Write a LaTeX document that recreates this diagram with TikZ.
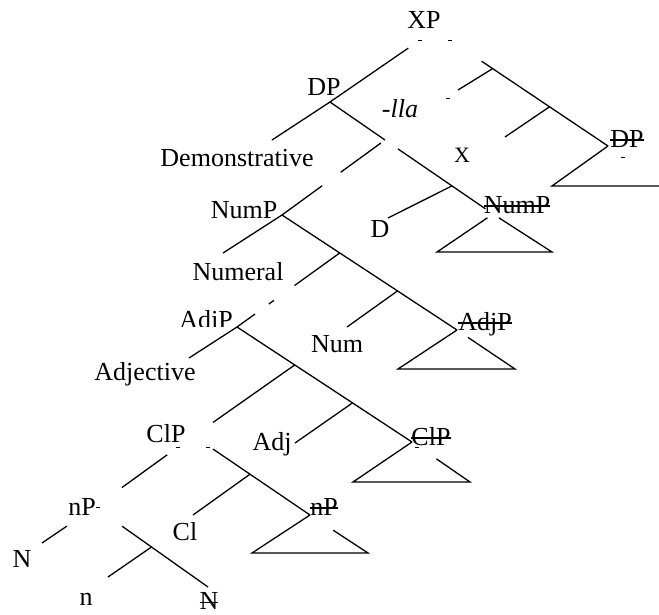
\documentclass[tikz,border=0pt]{standalone}
\usepackage{fontspec}
\setmainfont{Liberation Serif}
\usepackage{tikz}
\usetikzlibrary{calc}

% crossed-out copy of a label
\newcommand{\gone}[1]{\setbox0\hbox{#1}\rlap{\raisebox{0.24em}{\rule{\wd0}{1.4pt}}}\box0}

\tikzset{
  lbl/.style={font=\fontsize{26}{30}\selectfont, anchor=base, inner sep=0pt},
  br/.style={line width=1.3pt},
  stub/.style={line width=1pt},
}

\begin{document}
\begin{tikzpicture}[x=1pt,y=-1pt]
\useasboundingbox (0,0) rectangle (659,614);

% branching points
\coordinate (xpl) at (420,40);
\coordinate (xpr) at (450,40);
\coordinate (dp) at (330,102);
\coordinate (dbar) at (385,140);
\coordinate (numpt) at (493,214);
\coordinate (dd) at ($(dbar)!0.62!(numpt)$);
\coordinate (dpt) at (608,146);
\coordinate (xbar) at ($(xpr)!0.27!(dpt)$);
\coordinate (xbarb) at ($(xpr)!0.63!(dpt)$);
\coordinate (nump) at (282,215);
\coordinate (adjpt) at (457,330);
\coordinate (numa) at ($(nump)!0.33!(adjpt)$);
\coordinate (numb) at ($(nump)!0.66!(adjpt)$);
\coordinate (adjp) at (237,327);
\coordinate (clpt) at (412,442);
\coordinate (adja) at ($(adjp)!0.33!(clpt)$);
\coordinate (adjb) at ($(adjp)!0.66!(clpt)$);
\coordinate (clpl) at (178,447);
\coordinate (clpr) at (210,447);
\coordinate (npt) at (310,515);
\coordinate (clb) at ($(clpr)!0.4!(npt)$);
\coordinate (np) at (95,507);
\coordinate (nend) at (208,587);
\coordinate (nb) at ($(np)!0.5!(nend)$);

% free ends of the branches
\coordinate (llaend) at (458,90);
\coordinate (xend) at (505,137);
\coordinate (demend) at (272,140);
\coordinate (dend) at (388,218);
\coordinate (numend) at (223,253);
\coordinate (numhend) at (347,327);
\coordinate (adjvend) at (189,358);
\coordinate (adjhend) at (295,443);
\coordinate (clend) at (193,515);
\coordinate (nleft) at (42,543);
\coordinate (nsend) at (108,577);

% triangle corners
\coordinate (dpbl) at (552,186);
\coordinate (dpbr) at (659,186);
\coordinate (numpbl) at (437,252);
\coordinate (numpbr) at (552,252);
\coordinate (adjpbl) at (398,369);
\coordinate (adjpbr) at (515,369);
\coordinate (clpbl) at (353,482);
\coordinate (clpbr) at (470,482);
\coordinate (npbl) at (252,553);
\coordinate (npbr) at (368,553);

% XP
\draw[br] ($(xpl)!0.13!(dp)$) -- (dp);
\draw[br] ($(xpr)!0.2!(dpt)$) -- (dpt);
\draw[br] (xbar) -- (llaend);
\draw[br] (xbarb) -- (xend);
% DP
\draw[br] (dp) -- (demend);
\draw[br] (dp) -- (dbar);
\draw[br] ($(dbar)!0.04!(nump)$) -- ($(dbar)!0.43!(nump)$);
\draw[br] ($(dbar)!0.61!(nump)$) -- (nump);
\draw[br] ($(dbar)!0.12!(numpt)$) -- ($(dbar)!0.93!(numpt)$);
\draw[br] (dd) -- (dend);
% NumP
\draw[br] (nump) -- (numend);
\draw[br] (nump) -- (adjpt);
\draw[br] (numa) -- ($(numa)!0.44!(adjp)$);
\draw[br] ($(numa)!0.64!(adjp)$) -- ($(numa)!0.69!(adjp)$);
\draw[br] ($(numa)!0.825!(adjp)$) -- (adjp);
\draw[br] (numb) -- (numhend);
% AdjP
\draw[br] (adjp) -- (adjvend);
\draw[br] (adjp) -- (clpt);
\draw[br] (adja) -- ($(adja)!0.7!(clpl)$);
\draw[br] (adjb) -- (adjhend);
% ClP
\draw[br] ($(clpl)!0.13!(np)$) -- ($(clpl)!0.675!(np)$);
\draw[br] ($(clpr)!0.03!(npt)$) -- (npt);
\draw[br] (clb) -- (clend);
% nP
\draw[br] ($(np)!0.53!(nleft)$) -- (nleft);
\draw[br] ($(np)!0.24!(nend)$) -- (nend);
\draw[br] (nb) -- (nsend);

% triangles under the lower copies
\draw[br] (dpt) -- (dpbl) -- (dpbr);
\draw[br] ($(numpt)!0.1!(numpbr)$) -- (numpbr) -- (numpbl) -- ($(numpt)!0.1!(numpbl)$);
\draw[br] ($(adjpt)!0.19!(adjpbr)$) -- (adjpbr) -- (adjpbl) -- (adjpt);
\draw[br] ($(clpt)!0.42!(clpbr)$) -- (clpbr) -- (clpbl) -- (clpt);
\draw[br] ($(npt)!0.4!(npbr)$) -- (npbr) -- (npbl) -- (npt);

% little marks left over at the labels
\foreach \p in {(420,40),(450,40),(448,98),(623,157),(178,447),(208,447),(98,507),(417,447)}
  \draw[stub] \p ++(-2,0) -- ++(4,0);

% labels
\node[lbl] (xp) at (424,28) {XP};
\node[lbl] (dplbl) at (324,95) {DP};
\node[lbl] (dem) at (237,166) {Demonstrative};
\node[lbl] (lla) at (400,117) {\itshape -lla};
\node[lbl, font=\fontsize{22}{26}\selectfont] (x) at (462,162) {X};
\node[lbl] (dpgone) at (627,147) {\gone{DP}};
\node[lbl] (d) at (380,237) {D};
\node[lbl] (numplbl) at (244,218) {NumP};
\node[lbl] (numpgone) at (517,213) {\gone{NumP}};
\node[lbl] (numeral) at (238,280) {Numeral};
\begin{scope}
  \clip (170,300) rectangle (245,326.5);
  \node[lbl] (adjplbl) at (206,328) {AdjP};
\end{scope}
\node[lbl] (adjpgone) at (485,330) {\gone{AdjP}};
\node[lbl] (num) at (337,352) {Num};
\node[lbl] (adjective) at (145,380) {Adjective};
\node[lbl] (clplbl) at (166,442) {ClP};
\node[lbl] (clpgone) at (431,445) {\gone{ClP}};
\node[lbl] (adj) at (272,450) {Adj};
\node[lbl] (nplbl) at (82,515) {nP};
\node[lbl] (npgone) at (324,515) {\gone{nP}};
\node[lbl] (cl) at (185,540) {Cl};
\node[lbl] (bign) at (22,567) {N};
\node[lbl] (smalln) at (86,605) {n};
\node[lbl] (ngone) at (209,609.5) {\gone{N}};
\end{tikzpicture}
\end{document}
